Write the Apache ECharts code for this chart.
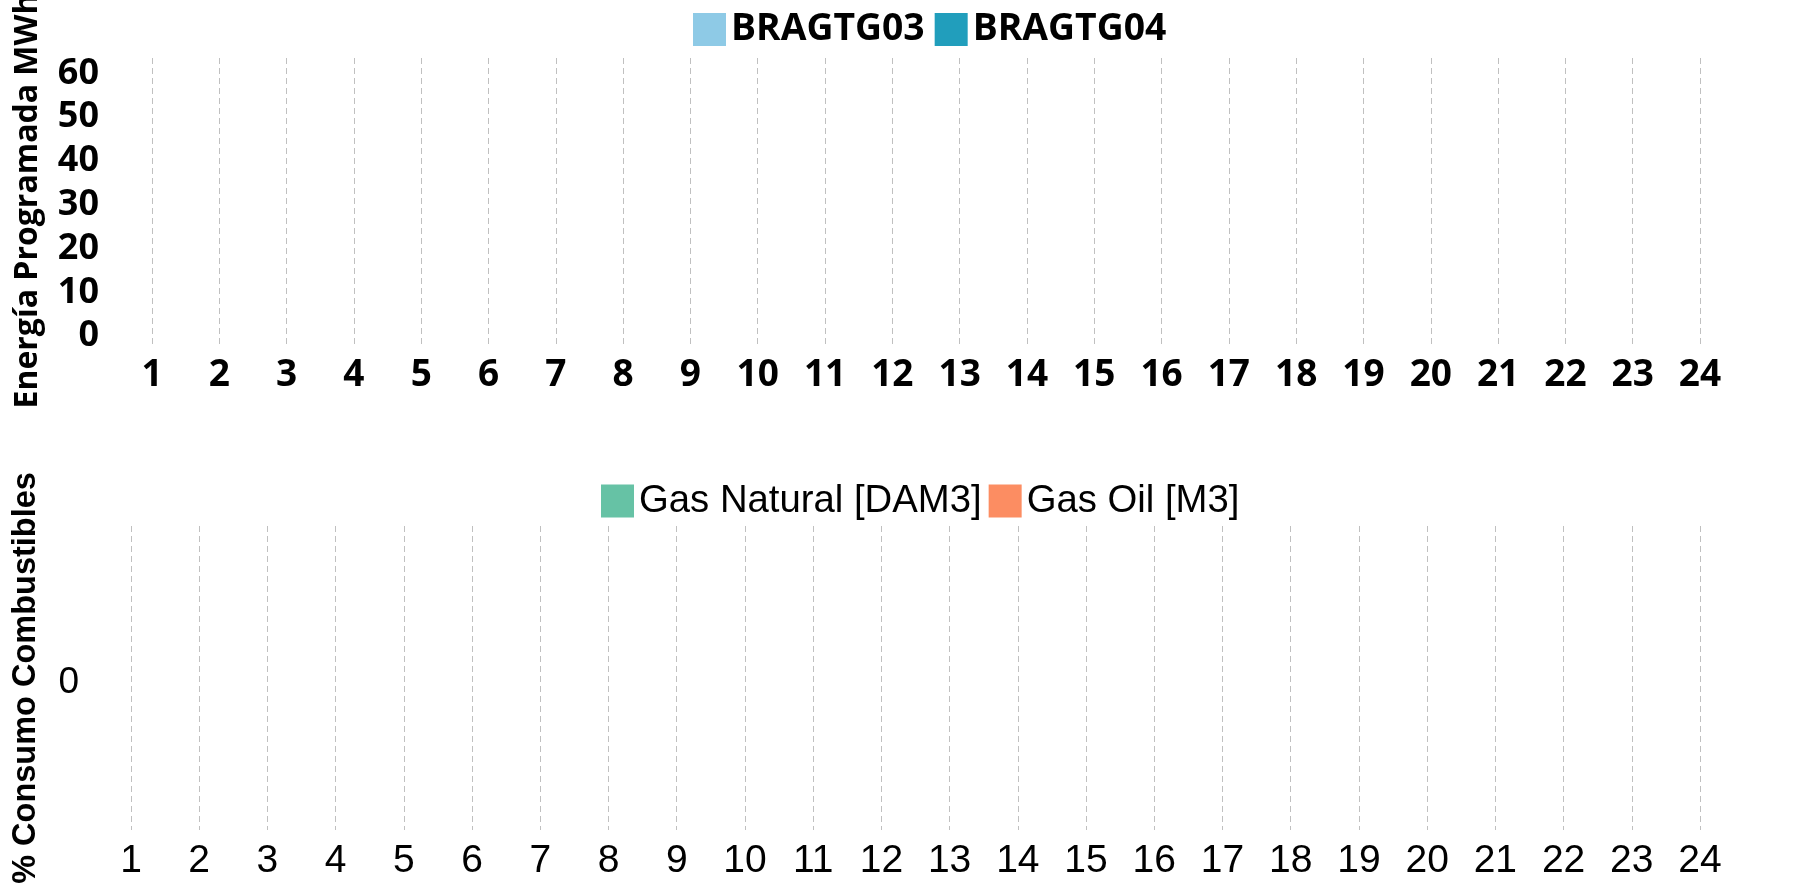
<!DOCTYPE html>
<html>
<head>
<meta charset="utf-8">
<script src="https://cdn.jsdelivr.net/npm/echarts@6/dist/echarts.min.js"></script>
<style>
html,body{margin:0;padding:0;background:#fff;}
#chart{width:1800px;height:888px;}
</style>
</head>
<body>
<div id="chart"></div>
<script>
const hours = ['1','2','3','4','5','6','7','8','9','10','11','12','13','14','15','16','17','18','19','20','21','22','23','24'];
const energyTicks = [0,10,20,30,40,50,60];
const fuelTicks = [0];
const bragtg03 = [0,0,0,0,0,0,0,0,0,0,0,0,0,0,0,0,0,0,0,0,0,0,0,0];
const bragtg04 = [0,0,0,0,0,0,0,0,0,0,0,0,0,0,0,0,0,0,0,0,0,0,0,0];
const gasNatural = [0,0,0,0,0,0,0,0,0,0,0,0,0,0,0,0,0,0,0,0,0,0,0,0];
const gasOil = [0,0,0,0,0,0,0,0,0,0,0,0,0,0,0,0,0,0,0,0,0,0,0,0];

const chart = echarts.init(document.getElementById('chart'), null, {renderer:'canvas'});
const OS = 'Open Sans';
const AR = 'Liberation Sans, Arial, sans-serif';
const split = {show:true, lineStyle:{color:'#c0c0c0', type:[6,4], width:1}};

chart.setOption({
  animation:false,
  backgroundColor:'#ffffff',
  legend:[
    {data:['BRAGTG03','BRAGTG04'], left:693, top:11, padding:0, itemWidth:33, itemHeight:33, itemGap:10,
     icon:'rect', textStyle:{fontFamily:OS, fontWeight:'bold', fontSize:37.3, color:'#000'}},
    {data:['Gas Natural [DAM3]','Gas Oil [M3]'], left:601, top:482, padding:0, itemWidth:33, itemHeight:33, itemGap:7,
     icon:'rect', textStyle:{fontFamily:AR, fontSize:38.3, color:'#000'}}
  ],
  grid:[
    {left:152, right:100, top:58, bottom:544, containLabel:false, outerBoundsMode:'none'},
    {left:131, right:100, top:526, bottom:58, containLabel:false, outerBoundsMode:'none'}
  ],
  xAxis:[
    {type:'category', gridIndex:0, data:hours, boundaryGap:false,
     axisLine:{show:false}, axisTick:{show:false}, splitLine:split,
     axisLabel:{fontFamily:OS, fontWeight:'bold', fontSize:37, color:'#000', margin:13, interval:0}},
    {type:'category', gridIndex:1, data:hours, boundaryGap:false,
     axisLine:{show:false}, axisTick:{show:false}, splitLine:split,
     axisLabel:{fontFamily:AR, fontSize:39, color:'#000', margin:12, interval:0}}
  ],
  yAxis:[
    {type:'value', gridIndex:0, min:-1.8, max:63.5,
     name:'Energía Programada MWh', nameLocation:'middle', nameGap:108,
     nameTextStyle:{fontFamily:OS, fontWeight:'bold', fontSize:32, color:'#000'},
     axisLine:{show:false}, axisTick:{show:false}, splitLine:{show:false},
     axisLabel:{customValues:energyTicks, fontFamily:OS, fontWeight:'bold', fontSize:36, color:'#000', margin:53}},
    {type:'value', gridIndex:1, min:-0.947, max:1.013,
     name:'% Consumo Combustibles', nameLocation:'middle', nameGap:88,
     nameTextStyle:{fontFamily:AR, fontWeight:'bold', fontSize:32.5, color:'#000'},
     axisLine:{show:false}, axisTick:{show:false}, splitLine:{show:false},
     axisLabel:{customValues:fuelTicks, fontFamily:AR, fontSize:37, color:'#000', margin:52}}
  ],
  series:[
    {name:'BRAGTG03', type:'bar', xAxisIndex:0, yAxisIndex:0, data:bragtg03, itemStyle:{color:'#8ecae6'}},
    {name:'BRAGTG04', type:'bar', xAxisIndex:0, yAxisIndex:0, data:bragtg04, itemStyle:{color:'#219ebc'}},
    {name:'Gas Natural [DAM3]', type:'bar', xAxisIndex:1, yAxisIndex:1, data:gasNatural, itemStyle:{color:'#66c2a5'}},
    {name:'Gas Oil [M3]', type:'bar', xAxisIndex:1, yAxisIndex:1, data:gasOil, itemStyle:{color:'#fc8d62'}}
  ]
});
</script>
</body>
</html>
